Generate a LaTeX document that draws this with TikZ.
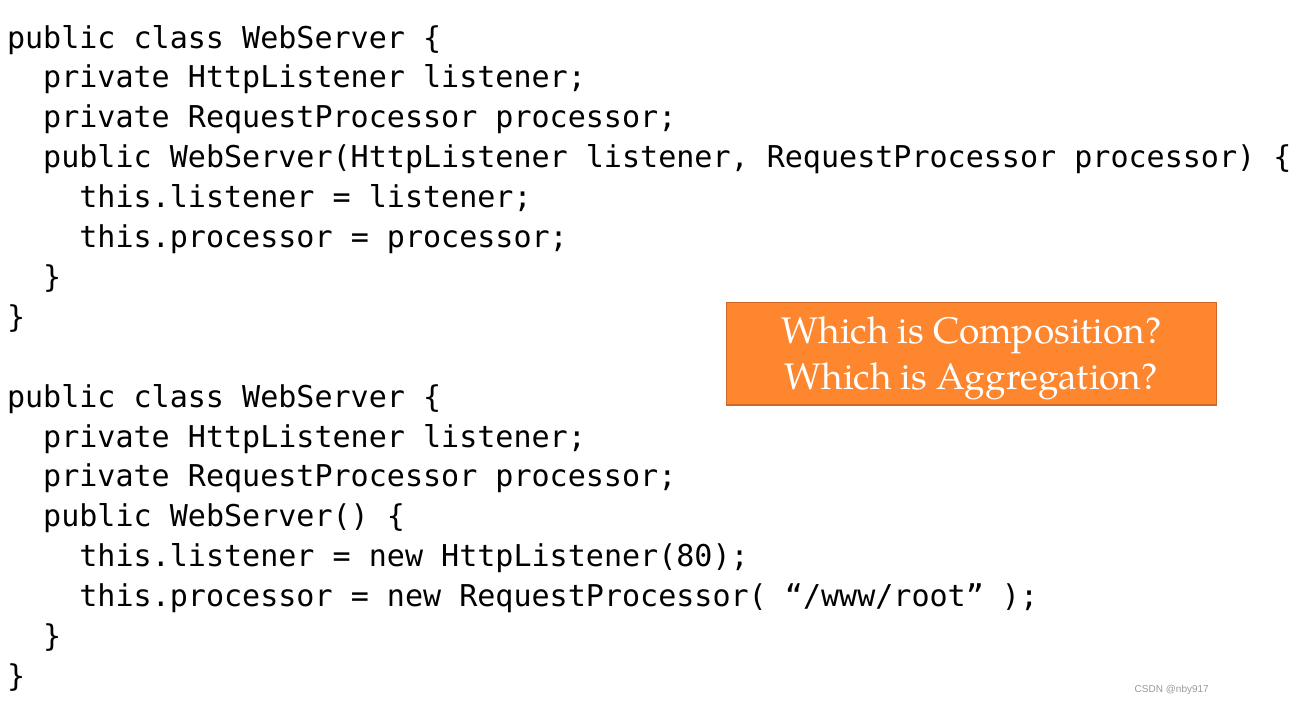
\documentclass[tikz,border=0pt]{standalone}
\usepackage{fontspec}
\newfontfamily\codefont{DejaVu Sans Mono}
\newfontfamily\qfont{TeX Gyre Pagella}
\newfontfamily\wmfont{Liberation Sans}
\definecolor{boxfill}{RGB}{253,134,46}
\definecolor{boxline}{RGB}{205,104,40}
\begin{document}
\begin{tikzpicture}[x=1pt,y=-1pt,
  code/.style={anchor=base west,inner sep=0pt,outer sep=0pt,font=\codefont\fontsize{30.05}{36}\selectfont,text=black},
  qtext/.style={anchor=base,inner sep=0pt,font=\qfont\fontsize{37}{40}\selectfont,text=white}]
\useasboundingbox (0,0) rectangle (1310,704);
\def\cw{18.1}
\def\ls{39.9}
\def\by{48}
\node[code] (l0)  at (7,\by+0*\ls) {public class WebServer \{};
\node[code] (l1)  at (7+2*\cw,\by+1*\ls) {private HttpListener listener;};
\node[code] (l2)  at (7+2*\cw,\by+2*\ls) {private RequestProcessor processor;};
\node[code] (l3)  at (7+2*\cw,\by+3*\ls) {public WebServer(HttpListener listener, RequestProcessor processor) \{};
\node[code] (l4)  at (7+4*\cw,\by+4*\ls) {this.listener = listener;};
\node[code] (l5)  at (7+4*\cw,\by+5*\ls) {this.processor = processor;};
\node[code] (l6)  at (7+2*\cw,\by+6*\ls) {\}};
\node[code] (l7)  at (7,\by+7*\ls) {\}};
\node[code] (l9)  at (7,\by+9*\ls) {public class WebServer \{};
\node[code] (l10) at (7+2*\cw,\by+10*\ls) {private HttpListener listener;};
\node[code] (l11) at (7+2*\cw,\by+11*\ls) {private RequestProcessor processor;};
\node[code] (l12) at (7+2*\cw,\by+12*\ls) {public WebServer() \{};
\node[code] (l13) at (7+4*\cw,\by+13*\ls) {this.listener = new HttpListener(80);};
\node[code] (l14) at (7+4*\cw,\by+14*\ls) {this.processor = new RequestProcessor( “/www/root” );};
\node[code] (l15) at (7+2*\cw,\by+15*\ls) {\}};
\node[code] (l16) at (7,\by+16*\ls) {\}};
\node[draw=boxline,fill=boxfill,line width=1.3pt,minimum width=490pt,minimum height=102.5pt,inner sep=0pt] (qbox) at (971.3,353.7) {};
\node[qtext] (q1) at (971.5,343) {Which is Composition?};
\node[qtext] (q2) at (971.2,389) {Which is Aggregation?};
\node[anchor=base east,inner sep=0pt,font=\wmfont\fontsize{10}{12}\selectfont,text=black!40] (wm) at (1209,692) {CSDN @nby917};
\end{tikzpicture}
\end{document}
